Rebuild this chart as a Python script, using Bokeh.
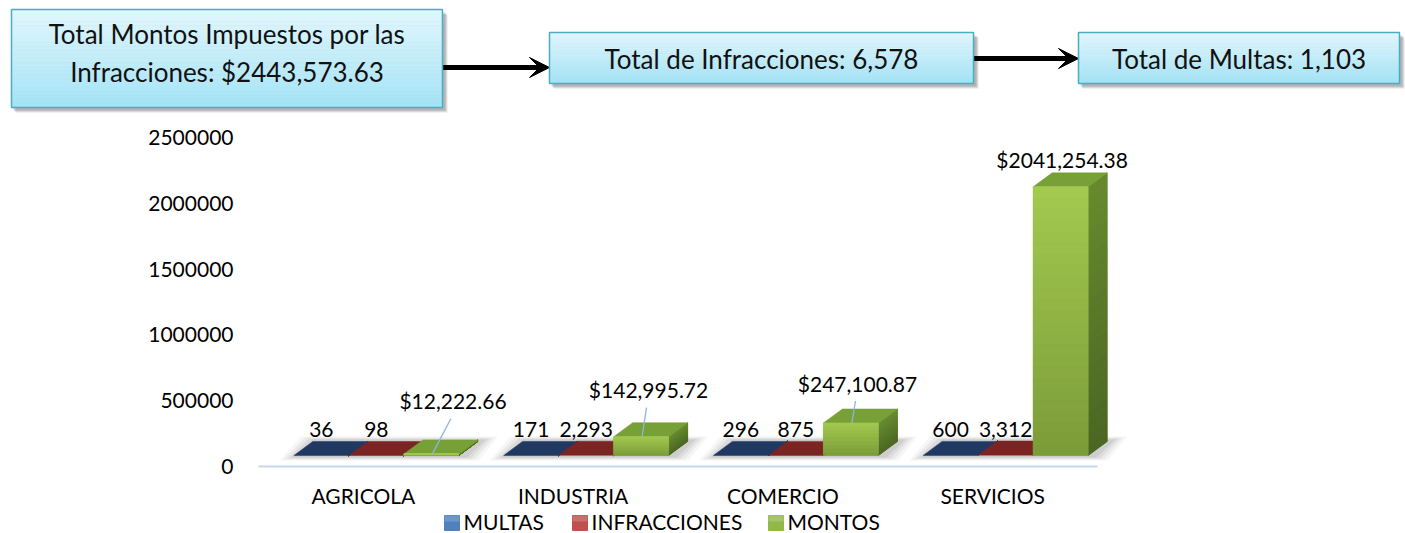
import numpy as np
from bokeh.plotting import figure
from bokeh.models import Range1d, FixedTicker, Arrow, VeeHead, BasicTickFormatter
from bokeh.embed import file_html
from bokeh.resources import INLINE
from bokeh.core.properties import value

# ---------------- data ----------------
categories = ["AGRICOLA", "INDUSTRIA", "COMERCIO", "SERVICIOS"]
series_names = ["MULTAS", "INFRACCIONES", "MONTOS"]
multas = [36, 171, 296, 600]
infracciones = [98, 2293, 875, 3312]
montos = [12222.66, 142995.72, 247100.87, 2041254.38]
multas_labels = ["36", "171", "296", "600"]
infracciones_labels = ["98", "2,293", "875", "3,312"]
montos_labels = ["$12,222.66", "$142,995.72", "$247,100.87", "$2041,254.38"]
y_ticks = [0, 500000, 1000000, 1500000, 2000000, 2500000]
summary_texts = [["Total Montos Impuestos por las", "Infracciones: $2443,573.63"],
                 ["Total de Infracciones: 6,578"],
                 ["Total de Multas: 1,103"]]

# ---------------- style / layout ----------------
FONT = "Lato"
W, H = 1405, 533
FRAME_L = 258                      # canvas x of frame left (x = -0.5)
FRAME_R = 1390
FRAME_BOTTOM = 467                 # canvas y of frame bottom
PX_X = 1 / 209.75                  # data units per pixel (x)
PX_Y = 2500000 / 329.0             # data units per pixel (y)
ZERO_SY = 466                      # canvas y of value 0
OV = "overlay"                     # decorations may extend past the frame
BASELINE_FIX = 0.38                # text anchor correction (em) for the svg text baseline

def sx2x(sx):
    return -0.5 + (np.asarray(sx, dtype=float) - FRAME_L) * PX_X

def sy2y(sy):
    return (ZERO_SY - np.asarray(sy, dtype=float)) * PX_Y

def hex2rgb(h):
    h = h.lstrip("#")
    return tuple(int(h[i:i + 2], 16) for i in (0, 2, 4))

def lerp(c0, c1, t):
    a, b = hex2rgb(c0), hex2rgb(c1)
    return "#%02x%02x%02x" % tuple(int(round(a[k] + (b[k] - a[k]) * t)) for k in range(3))

p = figure(width=W, height=H,
           x_range=Range1d(float(sx2x(FRAME_L)), float(sx2x(FRAME_R))),
           y_range=Range1d(float(sy2y(FRAME_BOTTOM)), float(sy2y(0))),
           output_backend="svg", toolbar_location=None,
           min_border_left=FRAME_L, min_border_right=W - FRAME_R,
           min_border_top=0, min_border_bottom=H - FRAME_BOTTOM, outline_line_color=None)
p.grid.visible = False

# ================= summary boxes =================
BOX_FS = 26
boxes = [(11, 442, 9, 107), (549, 973, 32, 83), (1078, 1399, 32, 83)]
baselines = [[43, 81], [68], [68]]
for (l, r, t, b), lines, bls in zip(boxes, summary_texts, baselines):
    for k, a in enumerate([0.10, 0.10, 0.12]):
        o = 5 - k
        p.quad(left=sx2x(l + o - 1), right=sx2x(r + o), top=sy2y(t + o), bottom=sy2y(b + o),
               fill_color="#000000", fill_alpha=a, line_color=None, level=OV)
    n = 24
    ys = np.linspace(t, b, n + 1)
    cols = [lerp("#e2f7fd", "#a4e3f6", (k + 0.5) / n) for k in range(n)]
    p.quad(left=[float(sx2x(l))] * n, right=[float(sx2x(r))] * n,
           top=sy2y(ys[:-1]), bottom=sy2y(ys[1:]),
           fill_color=cols, line_color=cols, line_width=0.6, level=OV)
    p.quad(left=sx2x(l), right=sx2x(r), top=sy2y(t), bottom=sy2y(b), fill_color=None,
           line_color="#4aacc5", line_width=1.5, level=OV)
    cx = float(sx2x((l + r) / 2))
    p.text(x=[cx] * len(lines), y=sy2y(np.array(bls) - BASELINE_FIX * BOX_FS), text=lines,
           text_align="center", text_baseline="alphabetic", text_font=value(FONT),
           text_font_size=f"{BOX_FS}px", text_color="#111111", level=OV)

for (x0, x1, yy) in [(442, 549, 67), (973, 1078, 58)]:
    p.add_layout(Arrow(x_start=float(sx2x(x0)), y_start=float(sy2y(yy)),
                       x_end=float(sx2x(x1)), y_end=float(sy2y(yy)),
                       line_width=5, line_color="black",
                       end=VeeHead(size=20, fill_color="black", line_color="black")))

# ================= 3D bar chart =================
BASE = 11 * PX_Y
DX = 19 * PX_X
DY = 14 * PX_Y
BW = 55 * PX_X
centers = [-42 * PX_X, 13 * PX_X, 68 * PX_X]
xs_cat = np.arange(len(categories))

# floor shadows
for i in xs_cat:
    L = i + centers[0] - BW / 2
    R = i + centers[2] + BW / 2
    for k, a in enumerate([0.07, 0.09, 0.12, 0.15]):
        g = (14 - 4 * k) * PX_X
        gy = (5 - k) * PX_Y
        p.patch(x=[L - g, L - g + DX * 1.1, R + DX + g + 6 * PX_X, R + g + 6 * PX_X],
                y=[BASE - gy, BASE + DY + gy, BASE + DY + gy, BASE - gy],
                fill_color="#7f7f7f", fill_alpha=a, line_color=None)

# baseline
p.segment(x0=[-0.5], y0=[0], x1=[3.5], y1=[0], line_color="#c6d9f1", line_width=2, level=OV)

series_vals = [multas, infracciones, montos]
front_cols = ["#4f81bd", "#c0504d", "#93b84a"]
top_cols = ["#1f3963", "#7a2523", "#77a036"]
side_top = ["#2c4d7a", "#7d2a28", "#678a2e"]
side_bot = ["#2c4d7a", "#7d2a28", "#4a6622"]
grad_top = [None, None, "#a4ca4f"]
grad_bot = [None, None, "#7b9b39"]
for s, vals in enumerate(series_vals):
    vals = np.array(vals, dtype=float)
    lefts = xs_cat + centers[s] - BW / 2
    rights = lefts + BW
    tops = BASE + vals
    n = 24
    for i in range(len(vals)):
        b, t, r = BASE, tops[i], rights[i]
        hs = np.linspace(b, t, n + 1)
        xs = [[r, r + DX, r + DX, r] for k in range(n)]
        ys = [[hs[k], hs[k] + DY, hs[k + 1] + DY, hs[k + 1]] for k in range(n)]
        cols = [lerp(side_bot[s], side_top[s], (k + 0.5) / n) for k in range(n)]
        p.patches(xs=xs, ys=ys, fill_color=cols, line_color=cols, line_width=1)
    p.patches(xs=[[l, l + DX, r + DX, r] for l, r in zip(lefts, rights)],
              ys=[[t, t + DY, t + DY, t] for t in tops],
              fill_color=top_cols[s], line_color=top_cols[s], line_width=0.5)
    p.quad(left=lefts, right=rights, bottom=[BASE] * len(vals), top=tops,
           fill_color=front_cols[s], line_color=None)
    if grad_top[s]:
        lf, rf, bf, tf, cf = [], [], [], [], []
        for i in range(len(vals)):
            hs = np.linspace(BASE, tops[i], n + 1)
            for k in range(n):
                lf.append(lefts[i]); rf.append(rights[i])
                bf.append(hs[k]); tf.append(hs[k + 1])
                cf.append(lerp(grad_bot[s], grad_top[s], (k + 0.5) / n))
        p.quad(left=lf, right=rf, bottom=bf, top=tf, fill_color=cf, line_color=cf,
               line_width=0.6)

# data labels
LAB_FS = 21
FIX = BASELINE_FIX * LAB_FS * PX_Y
label_font = dict(text_font=value(FONT), text_font_size=f"{LAB_FS}px", text_color="black",
                  text_align="center", text_baseline="alphabetic")
for s, labs in [(0, multas_labels), (1, infracciones_labels)]:
    vals = np.array(series_vals[s], dtype=float)
    p.text(x=xs_cat + centers[s], y=BASE + vals + DY + 4 * PX_Y + FIX, text=labs, **label_font)

mont = np.array(montos, dtype=float)
lab_dx_px = [21.6, 7.4, 6.6, 1.5]
lab_rise_px = [31.4, 25, 18, 5.4]
lab_x = xs_cat + centers[2] + np.array(lab_dx_px) * PX_X
lab_y = BASE + mont + DY + np.array(lab_rise_px) * PX_Y
p.text(x=lab_x, y=lab_y + FIX, text=montos_labels, **label_font)
lead = [i for i in range(len(mont)) if lab_rise_px[i] > 10]
p.segment(x0=[xs_cat[i] + centers[2] + 1 * PX_X for i in lead],
          y0=[BASE + mont[i] for i in lead],
          x1=[lab_x[i] - 2 * PX_X for i in lead],
          y1=[lab_y[i] - 10 * PX_Y for i in lead],
          line_color="#8db4e2", line_width=1.3)

# axes
p.yaxis.ticker = FixedTicker(ticks=y_ticks)
p.yaxis.formatter = BasicTickFormatter(use_scientific=False)
p.xaxis.ticker = FixedTicker(ticks=list(xs_cat))
p.xaxis.major_label_overrides = {int(i): c for i, c in zip(xs_cat, categories)}
for ax in (p.xaxis, p.yaxis):
    ax.axis_line_color = None
    ax.major_tick_line_color = None
    ax.minor_tick_line_color = None
    ax.major_tick_out = 0
    ax.major_tick_in = 0
    ax.major_label_text_font = FONT
    ax.major_label_text_font_size = "21px"
    ax.major_label_text_color = "black"
p.yaxis.major_label_standoff = 25
p.xaxis.major_label_standoff = 15

# legend (below the category labels)
leg_sq_l = [444, 572, 768]
leg_txt_l = [463, 591, 787]
leg_top, leg_bot, leg_base = 515, 530, 529
for k, name in enumerate(series_names):
    c = front_cols[k]
    p.quad(left=sx2x(leg_sq_l[k]), right=sx2x(leg_sq_l[k] + 15),
           top=sy2y(leg_top), bottom=sy2y(leg_bot),
           fill_color=c, line_color=c, level=OV)
    p.quad(left=sx2x(leg_sq_l[k]), right=sx2x(leg_sq_l[k] + 15),
           top=sy2y(leg_top), bottom=sy2y(leg_top + 6),
           fill_color="white", fill_alpha=0.18, line_color=None, level=OV)
    p.text(x=sx2x([leg_txt_l[k]]), y=sy2y([leg_base - BASELINE_FIX * 21]), text=[name],
           text_align="left", text_baseline="alphabetic", text_font=value(FONT),
           text_font_size="21px", text_color="black", level=OV)

open("out.html", "w").write(file_html(p, INLINE))
